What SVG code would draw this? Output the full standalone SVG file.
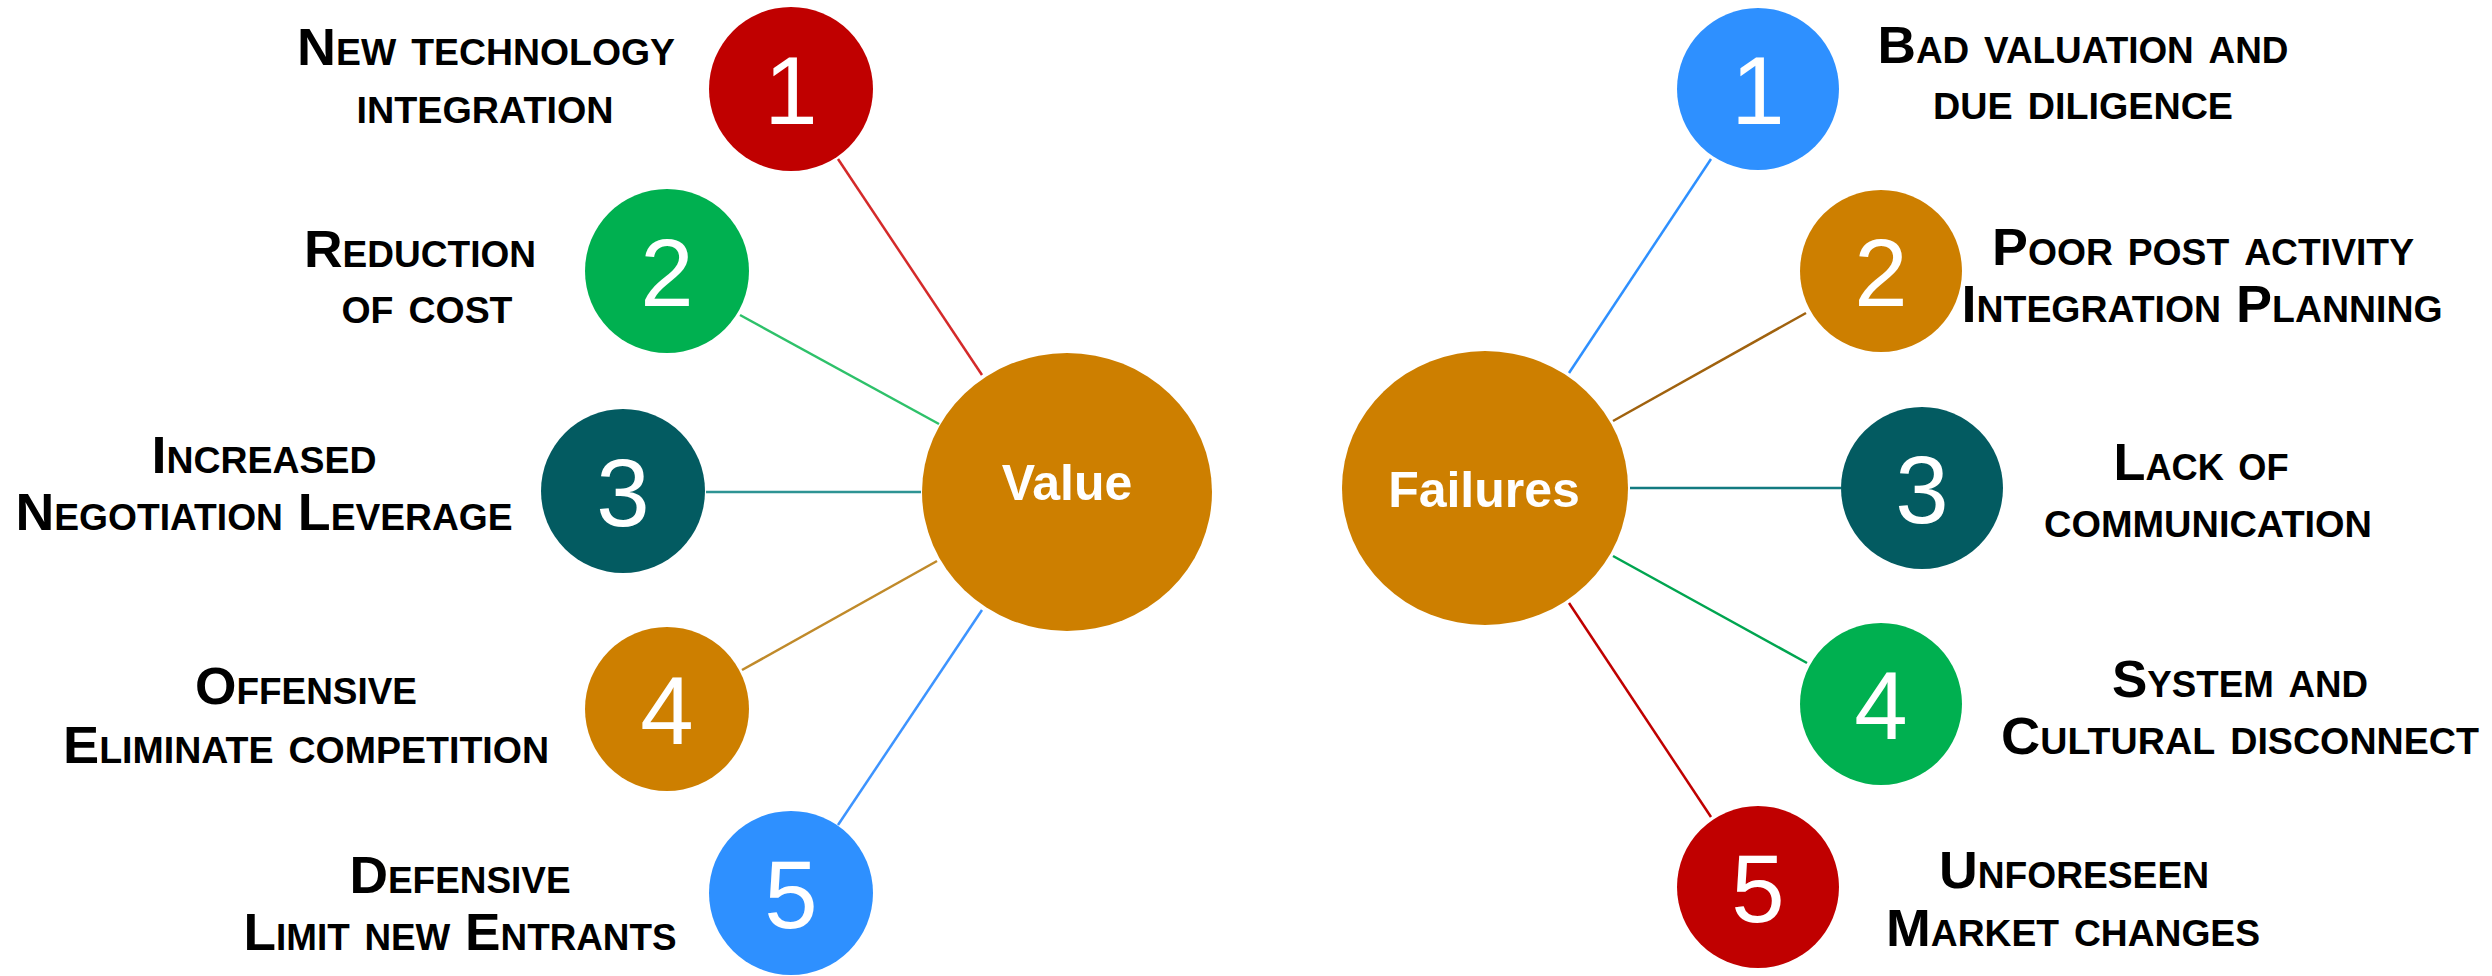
<svg xmlns="http://www.w3.org/2000/svg" width="2492" height="976" viewBox="0 0 2492 976">
<style>
.hub{fill:#CD7F00}
.hubt{font-family:"Liberation Sans",Arial,sans-serif;font-weight:bold;font-size:50px;fill:#fff;text-anchor:middle}
.num{font-family:"Liberation Sans",Arial,sans-serif;font-size:96px;fill:#fff;text-anchor:middle}
.lbl{font-family:"Liberation Sans",Arial,sans-serif;font-weight:bold;font-size:52px;font-variant:small-caps;fill:#000;text-anchor:middle}
.c-red{fill:#C00000}.c-green{fill:#00B050}.c-teal{fill:#035B61}.c-orange{fill:#CD7F00}.c-blue{fill:#2E90FF}
.ln{stroke-width:2.5;fill:none}
</style>
<rect width="2492" height="976" fill="#fff"/>
<g id="connectors">
<line class="ln" x1="838" y1="159" x2="982" y2="375" stroke="#D42A2A"/>
<line class="ln" x1="740" y1="315" x2="939" y2="424" stroke="#2EC16A"/>
<line class="ln" x1="706" y1="492" x2="921" y2="492" stroke="#2E9494"/>
<line class="ln" x1="742" y1="670" x2="937" y2="561" stroke="#C08A2A"/>
<line class="ln" x1="838" y1="825" x2="982" y2="610" stroke="#3D94FF"/>
<line class="ln" x1="1711" y1="159" x2="1569" y2="373" stroke="#2E90FF"/>
<line class="ln" x1="1806" y1="313" x2="1613" y2="421" stroke="#A0620E"/>
<line class="ln" x1="1630" y1="488" x2="1841" y2="488" stroke="#137A80"/>
<line class="ln" x1="1613" y1="556" x2="1807" y2="663" stroke="#00A550"/>
<line class="ln" x1="1569" y1="603" x2="1711" y2="817" stroke="#C00000"/>
</g>
<g id="value">
<ellipse class="hub" cx="1067" cy="492" rx="145" ry="139"/>
<text class="hubt" x="1067" y="500">Value</text>
</g>
<g id="failures">
<ellipse class="hub" cx="1485" cy="488" rx="143" ry="137"/>
<text class="hubt" x="1484" y="507">Failures</text>
</g>
<g id="value-1">
<circle class="c-red" cx="791" cy="89" r="82"/>
<text class="num" x="791" y="124">1</text>
<text class="lbl" x="486" y="65" textLength="378" lengthAdjust="spacingAndGlyphs">New technology</text>
<text class="lbl" x="485" y="123" textLength="257" lengthAdjust="spacingAndGlyphs">integration</text>
</g>
<g id="value-2">
<circle class="c-green" cx="667" cy="271" r="82"/>
<text class="num" x="667" y="306">2</text>
<text class="lbl" x="420" y="267" textLength="232" lengthAdjust="spacingAndGlyphs">Reduction</text>
<text class="lbl" x="427" y="323" textLength="171" lengthAdjust="spacingAndGlyphs">of cost</text>
</g>
<g id="value-3">
<circle class="c-teal" cx="623" cy="491" r="82"/>
<text class="num" x="623" y="526">3</text>
<text class="lbl" x="264" y="473" textLength="225" lengthAdjust="spacingAndGlyphs">Increased</text>
<text class="lbl" x="264" y="530" textLength="497" lengthAdjust="spacingAndGlyphs">Negotiation Leverage</text>
</g>
<g id="value-4">
<circle class="c-orange" cx="667" cy="709" r="82"/>
<text class="num" x="667" y="744">4</text>
<text class="lbl" x="306" y="704" textLength="222" lengthAdjust="spacingAndGlyphs">Offensive</text>
<text class="lbl" x="306" y="763" textLength="486" lengthAdjust="spacingAndGlyphs">Eliminate competition</text>
</g>
<g id="value-5">
<circle class="c-blue" cx="791" cy="893" r="82"/>
<text class="num" x="791" y="928">5</text>
<text class="lbl" x="460" y="893" textLength="221" lengthAdjust="spacingAndGlyphs">Defensive</text>
<text class="lbl" x="460" y="950" textLength="433" lengthAdjust="spacingAndGlyphs">Limit new Entrants</text>
</g>
<g id="failure-1">
<circle class="c-blue" cx="1758" cy="89" r="81"/>
<text class="num" x="1758" y="124">1</text>
<text class="lbl" x="2083" y="63" textLength="411" lengthAdjust="spacingAndGlyphs">Bad valuation and</text>
<text class="lbl" x="2083" y="119" textLength="300" lengthAdjust="spacingAndGlyphs">due diligence</text>
</g>
<g id="failure-2">
<circle class="c-orange" cx="1881" cy="271" r="81"/>
<text class="num" x="1881" y="306">2</text>
<text class="lbl" x="2203" y="265" textLength="422" lengthAdjust="spacingAndGlyphs">Poor post activity</text>
<text class="lbl" x="2202" y="322" textLength="481" lengthAdjust="spacingAndGlyphs">Integration Planning</text>
</g>
<g id="failure-3">
<circle class="c-teal" cx="1922" cy="488" r="81"/>
<text class="num" x="1922" y="523">3</text>
<text class="lbl" x="2201" y="480" textLength="175" lengthAdjust="spacingAndGlyphs">Lack of</text>
<text class="lbl" x="2208" y="537" textLength="328" lengthAdjust="spacingAndGlyphs">communication</text>
</g>
<g id="failure-4">
<circle class="c-green" cx="1881" cy="704" r="81"/>
<text class="num" x="1881" y="739">4</text>
<text class="lbl" x="2240" y="697" textLength="256" lengthAdjust="spacingAndGlyphs">System and</text>
<text class="lbl" x="2240" y="754" textLength="478" lengthAdjust="spacingAndGlyphs">Cultural disconnect</text>
</g>
<g id="failure-5">
<circle class="c-red" cx="1758" cy="887" r="81"/>
<text class="num" x="1758" y="922">5</text>
<text class="lbl" x="2074" y="888" textLength="270" lengthAdjust="spacingAndGlyphs">Unforeseen</text>
<text class="lbl" x="2073" y="946" textLength="374" lengthAdjust="spacingAndGlyphs">Market changes</text>
</g>
</svg>
